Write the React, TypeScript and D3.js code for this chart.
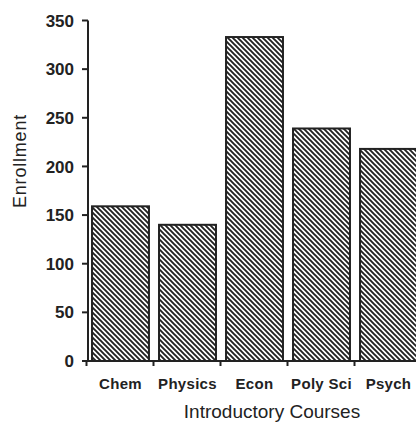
import React from "react";
import * as d3 from "d3";

const categories = ["Chem", "Physics", "Econ", "Poly Sci", "Psych"];
const enrollment = [159, 140, 333, 239, 218];
const yTicks = [0, 50, 100, 150, 200, 250, 300, 350];

export default function App() {
  const W = 416, H = 427;
  const x = d3.scaleBand<string>().domain(categories).range([88, 421]).paddingInner(0.15).paddingOuter(0.06);
  const y = d3.scaleLinear().domain([0, 350]).range([361, 20.5]);
  const step = x.step();
  const font = "'Liberation Sans', Arial, sans-serif";
  const ink = "#222";
  return (
    <svg width={W} height={H} style={{ position: "absolute", left: 0, top: 0, background: "#fff" }}>
      <defs>
        <pattern id="hatch" patternUnits="userSpaceOnUse" width={5} height={5}>
          <path d="M-1,-1 L6,6 M-1,4 L1,6 M4,-1 L6,1" stroke={ink} strokeWidth={1.9} />
        </pattern>
      </defs>
      {categories.map((c, i) => (
        <rect key={c} x={x(c)} y={y(enrollment[i])} width={x.bandwidth()} height={y(0) - y(enrollment[i])}
          fill="url(#hatch)" stroke={ink} strokeWidth={2} />
      ))}
      {/* y axis */}
      <line x1={88} x2={88} y1={y(350)} y2={y(0)} stroke={ink} strokeWidth={2} />
      {yTicks.map(t => (
        <g key={t}>
          <line x1={82} x2={88} y1={y(t)} y2={y(t)} stroke={ink} strokeWidth={2} />
          <text x={74} y={y(t)} dy="0.36em" textAnchor="end" fontFamily={font} fontWeight="bold" fontSize={17} fill={ink}>{t}</text>
        </g>
      ))}
      {/* x axis */}
      <line x1={82} x2={W} y1={y(0)} y2={y(0)} stroke={ink} strokeWidth={2} />
      {categories.map((c) => {
        const tx = (x(c) as number) - (step * 0.15) / 2 - 0.5;
        return <line key={c} x1={tx} x2={tx} y1={y(0)} y2={y(0) + 5} stroke={ink} strokeWidth={2} />;
      })}
      {categories.map(c => (
        <text key={c} x={(x(c) as number) + x.bandwidth() / 2} y={389} textAnchor="middle" fontFamily={font} fontSize={15} fontWeight="bold" letterSpacing={0.3} fill={ink}>{c}</text>
      ))}
      <text x={272} y={418} textAnchor="middle" fontFamily={font} fontSize={19} fill={ink}>Introductory Courses</text>
      <text transform="translate(26,161) rotate(-90)" textAnchor="middle" fontFamily={font} fontSize={18} letterSpacing={0.8} fill={ink}>Enrollment</text>
    </svg>
  );
}
